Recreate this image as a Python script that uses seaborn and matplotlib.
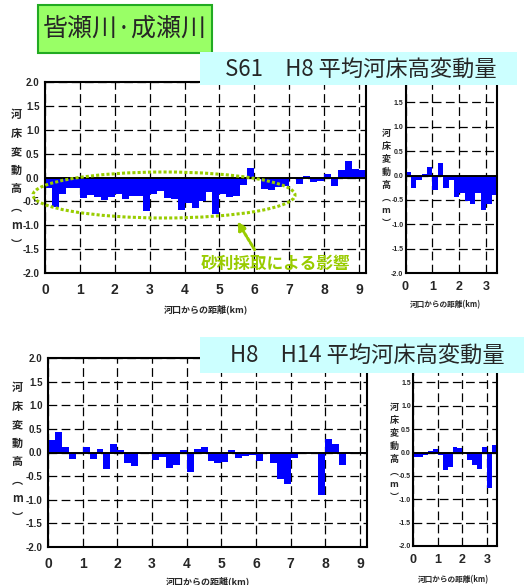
import numpy as np
import matplotlib
matplotlib.use("Agg")
import matplotlib.pyplot as plt
import seaborn as sns
from matplotlib import font_manager
from matplotlib.patches import Rectangle, Ellipse, FancyArrowPatch

# 河口からの距離 (km): 0.2 km ごとの区間中心
dist_main = np.round(np.arange(0.1, 9.2, 0.2), 1)   # 0 - 9.2 km, 46 sections
dist_sub = np.round(np.arange(0.1, 3.4, 0.2), 1)    # 0 - 3.4 km, 17 sections

# 平均河床高変動量 (m), S61 -> H8
main_s61_h8 = [-0.22, -0.62, -0.35, -0.22, -0.22, -0.42, -0.36, -0.41, -0.47, -0.41,
               -0.35, -0.44, -0.39, -0.39, -0.70, -0.34, -0.28, -0.42, -0.44, -0.69,
               -0.54, -0.64, -0.49, -0.30, -0.77, -0.34, -0.41, -0.39, -0.16, 0.20,
               -0.03, -0.25, -0.27, -0.20, -0.18, 0.00, -0.14, 0.03, -0.09, -0.07,
               0.07, -0.18, 0.15, 0.34, 0.18, 0.16]
sub_s61_h8 = [0.08, -0.26, -0.09, 0.04, 0.17, -0.29, 0.25, -0.26, -0.09, -0.45,
              -0.35, -0.53, -0.58, -0.36, -0.71, -0.58, -0.39]

# 平均河床高変動量 (m), H8 -> H14
main_h8_h14 = [0.27, 0.43, 0.11, -0.13, -0.02, 0.12, -0.13, 0.07, -0.35, 0.17,
               0.05, -0.22, -0.28, 0.00, 0.00, -0.15, -0.09, -0.33, -0.26, 0.05,
               -0.42, 0.07, 0.11, -0.17, -0.22, -0.20, 0.05, -0.11, -0.07, -0.06,
               -0.17, 0.00, -0.22, -0.57, -0.67, -0.11, 0.02, 0.00, -0.04, -0.89,
               0.28, 0.17, -0.26, 0.02, 0.00, -0.04]
sub_h8_h14 = [-0.09, -0.09, -0.06, 0.04, 0.07, -0.05, -0.37, -0.31, 0.11, 0.09,
              0.00, -0.17, -0.26, -0.36, 0.11, -0.75, 0.15]

yticks = [-2.0, -1.5, -1.0, -0.5, 0.0, 0.5, 1.0, 1.5, 2.0]
ytick_labels = ["-2.0", "-1.5", "-1.0", "-0.5", "0.0", "0.5", "1.0", "1.5", "2.0"]

river_title = "皆瀬川·成瀬川"
title_1 = "S61　H8 平均河床高変動量"
title_2 = "H8　H14 平均河床高変動量"
note = "砂利採取による影響"
ylab = "\n".join(["河", "床", "変", "動", "高", "︵", "m", "︶"])
xlab = "河口からの距離(km)"

sns.set_style("white")
names = {f.name for f in font_manager.fontManager.ttflist}
narrow = "Liberation Sans Narrow" if "Liberation Sans Narrow" in names else "Liberation Sans"
plt.rcParams["font.family"] = [narrow, "Noto Sans CJK JP", "DejaVu Sans"]
jp = ["Noto Sans CJK JP", "DejaVu Sans"]

W, H = 524, 585
fig = plt.figure(figsize=(W / 100, H / 100), dpi=100)


def fx(px):
    return px / W


def fy(py):
    return 1 - py / H


def box(l, t, r, b):
    return [l / W, 1 - b / H, (r - l) / W, (b - t) / H]


big = dict(xt=9, tick_x=10, tick_y=7, ylab=8, xlab=6.5, padx=7, pady=4, top=True)
small = dict(xt=3, tick_x=9, tick_y=5, ylab=6.5, xlab=5.5, padx=6, pady=1.5, top=False)

panels = [
    (box(45, 82, 366, 273), dist_main, main_s61_h8, 9.2, big, (-0.09, 0.49), (0.5, -0.19)),
    (box(405.5, 78, 497, 273), dist_sub, sub_s61_h8, 3.4, small, (-0.215, 0.485), (0.44, -0.165)),
    (box(48, 358, 367, 547), dist_main, main_h8_h14, 9.2, big, (-0.096, 0.5), (0.5, -0.18)),
    (box(413, 359, 497, 546), dist_sub, sub_h8_h14, 3.4, small, (-0.225, 0.5), (0.48, -0.18)),
]

for rect, dist, vals, xmax, st, ylc, xlc in panels:
    ax = fig.add_axes(rect)
    sns.barplot(x=dist, y=vals, native_scale=True, width=1, color="#0000ff",
                saturation=1, errorbar=None, linewidth=0, ax=ax)
    ax.axhline(0, color="k", lw=1.4, zorder=3)
    ax.set_xlim(0, xmax)
    ax.set_ylim(-2, 2)
    ax.set_xticks(range(st["xt"] + 1))
    ax.set_xticklabels([str(i) for i in range(st["xt"] + 1)])
    ax.set_yticks(yticks)
    # the top label of the narrow panels sits under the title banner
    ax.set_yticklabels(ytick_labels if st["top"] else ytick_labels[:-1] + [""])
    ax.grid(True, color="k", lw=0.9, ls=(0, (7, 3.5)))
    ax.set_axisbelow(True)
    for s in ax.spines.values():
        s.set_color("k")
        s.set_linewidth(1.5)
    ax.tick_params(axis="x", length=0, pad=st["padx"], labelsize=st["tick_x"])
    ax.tick_params(axis="y", length=0, pad=st["pady"], labelsize=st["tick_y"])
    for lbl in ax.get_xticklabels() + ax.get_yticklabels():
        lbl.set_fontweight("bold")
    ax.set_ylabel(ylab, rotation=0, family=jp, fontsize=st["ylab"], fontweight="bold",
                  linespacing=1.55, ha="center", va="center")
    ax.yaxis.set_label_coords(*ylc)
    ax.set_xlabel(xlab, family=jp, fontsize=st["xlab"], fontweight="bold", va="center")
    ax.xaxis.set_label_coords(*xlc)

# 見出し
fig.add_artist(Rectangle((fx(38), fy(53)), (212 - 38) / W, (53 - 5) / H, transform=fig.transFigure,
                         facecolor="#99ff66", edgecolor="#22aa22", lw=1.5, zorder=5))
fig.text(fx(125), fy(29), river_title, family=jp, fontsize=18, ha="center", va="center", zorder=6)

fig.add_artist(Rectangle((fx(200), fy(85)), (517 - 200) / W, (85 - 52) / H, transform=fig.transFigure,
                         facecolor="#ccffff", edgecolor="none", zorder=5))
fig.text(fx(225), fy(69), title_1, family=jp, fontsize=16, ha="left", va="center", zorder=6)

fig.add_artist(Rectangle((fx(200), fy(373)), (524 - 200) / W, (373 - 337) / H, transform=fig.transFigure,
                         facecolor="#ccffff", edgecolor="none", zorder=5))
fig.text(fx(230), fy(355), title_2, family=jp, fontsize=16, ha="left", va="center", zorder=6)

# 砂利採取の注記
fig.add_artist(Ellipse((fx(164), fy(195)), 262 / W, 46 / H, transform=fig.transFigure,
                       fill=False, edgecolor="#99cc00", lw=2.2, ls=(0, (1, 0.7)), zorder=4))
fig.add_artist(FancyArrowPatch((fx(256), fy(252)), (fx(236), fy(219)), transform=fig.transFigure,
                               arrowstyle="-|>", mutation_scale=12, color="#99cc00",
                               lw=2.2, ls=(0, (1, 0.7)), zorder=4))
fig.text(fx(276), fy(264), note, family=jp, fontsize=12, fontweight="bold", color="#99cc00",
         ha="center", va="center", zorder=6)

fig.savefig("out.png", dpi=100)
